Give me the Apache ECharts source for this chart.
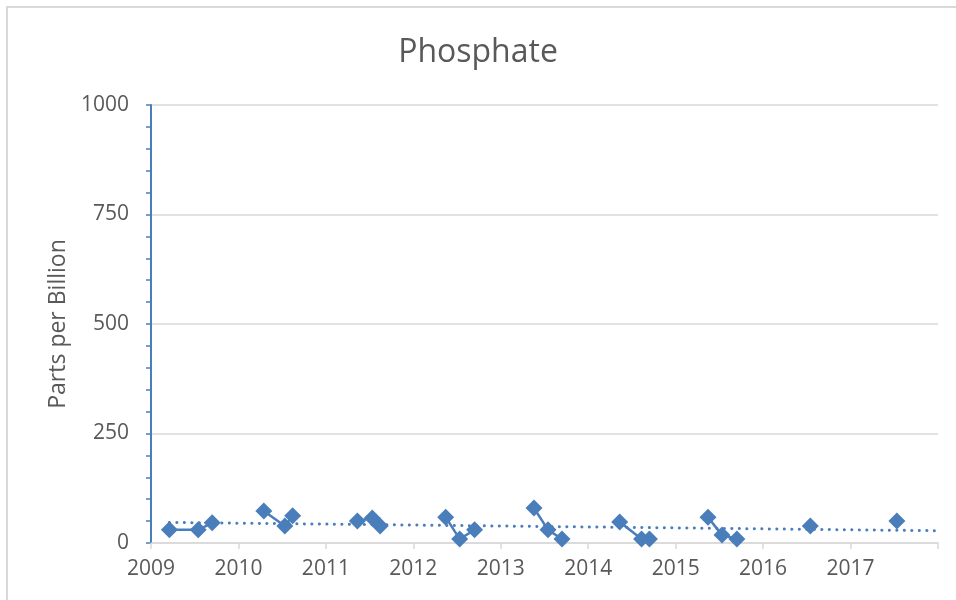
<!DOCTYPE html>
<html><head><meta charset="utf-8">
<script src="https://cdn.jsdelivr.net/npm/echarts@6/dist/echarts.min.js"></script>
<style>html,body{margin:0;padding:0;background:#fff}#c{width:956px;height:600px}</style>
</head><body><div id="c"></div>
<script>
var dates = [2009.21, 2009.54, 2009.70, 2010.29, 2010.53, 2010.62, 2011.36, 2011.53, 2011.62,
             2012.37, 2012.53, 2012.70, 2013.38, 2013.54, 2013.70, 2014.36, 2014.61, 2014.70,
             2015.37, 2015.53, 2015.70, 2016.54, 2017.53];
var values = [30, 30, 46, 73, 39, 62, 50, 57, 39,
              59, 9, 30, 80, 30, 9, 48, 9, 9,
              59, 18, 9, 39, 50];
var trendX = [2009.21, 2018];
var trendY = [47, 28];
var yTicks = [0, 250, 500, 750, 1000];
var xTicks = [2009, 2010, 2011, 2012, 2013, 2014, 2015, 2016, 2017];

var col = '#4a7ebb';
var groups = {};
dates.forEach(function (d, i) {
  var k = Math.floor(d);
  (groups[k] = groups[k] || []).push([d, values[i]]);
});
var series = Object.keys(groups).map(function (k) {
  return {
    type: 'line', data: groups[k], symbol: 'diamond', symbolSize: 17,
    itemStyle: { color: col }, lineStyle: { color: col, width: 2.5 }, z: 3
  };
});
series.unshift({
  type: 'line', data: trendX.map(function (x, i) { return [x, trendY[i]]; }),
  symbol: 'none', z: 2,
  lineStyle: { color: col, width: 3, type: [0.1, 7.4], cap: 'round' }
});

var chart = echarts.init(document.getElementById('c'));
chart.setOption({
  animation: false,
  title: { text: 'Phosphate', left: 'center', top: 32,
    textStyle: { fontFamily: 'Open Sans', fontSize: 32, fontWeight: 'normal', color: '#595959' } },
  graphic: [{ type: 'rect', shape: { x: 7, y: 7, width: 1000, height: 700 },
    style: { fill: 'none', stroke: '#d9d9d9', lineWidth: 2 }, silent: true }],
  grid: { left: 151, right: 18, top: 105, bottom: 57 },
  xAxis: {
    type: 'value', min: 2009, max: 2018, interval: 1,
    axisLine: { lineStyle: { color: '#d9d9d9', width: 1.5 } },
    axisTick: { show: true, length: 6, lineStyle: { color: '#d9d9d9', width: 1.5 } },
    splitLine: { show: false },
    axisLabel: { margin: 16, fontFamily: 'Open Sans', fontSize: 21, color: '#595959',
      formatter: function (v) { return xTicks.indexOf(v) >= 0 ? String(v) : ''; } }
  },
  yAxis: {
    type: 'value', min: 0, max: 1000, interval: 250,
    name: 'Parts per Billion', nameLocation: 'middle', nameGap: 78,
    nameTextStyle: { fontFamily: 'Open Sans', fontSize: 23, color: '#595959' },
    axisLine: { show: true, lineStyle: { color: col, width: 2 } },
    axisTick: { show: true, length: 5, lineStyle: { color: col, width: 1.5 } },
    minorTick: { show: true, splitNumber: 5, length: 5, lineStyle: { color: col, width: 1.5 } },
    splitLine: { show: true, lineStyle: { color: '#d9d9d9', width: 1.5 } },
    axisLabel: { margin: 22, fontFamily: 'Open Sans', fontSize: 21, color: '#595959',
      formatter: function (v) { return yTicks.indexOf(v) >= 0 ? String(v) : ''; } }
  },
  series: series
});
</script></body></html>
